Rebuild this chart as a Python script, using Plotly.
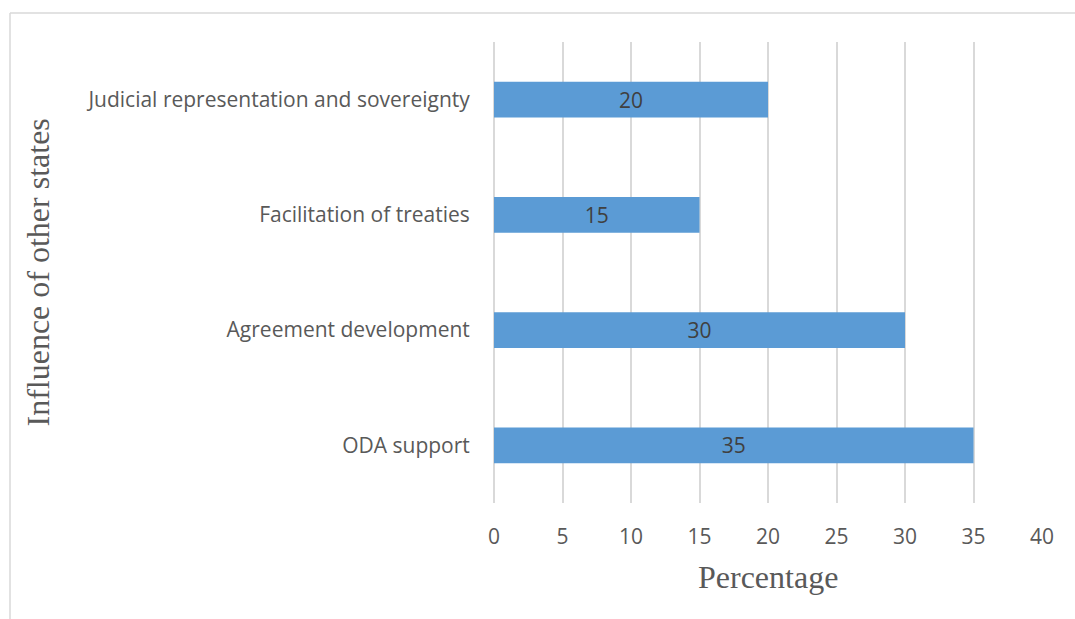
import plotly.graph_objects as go

# Influence of other states, share of responses (%)
categories = ["ODA support", "Agreement development", "Facilitation of treaties",
              "Judicial representation and sovereignty"]
values = [35, 30, 15, 20]
x_ticks = [0, 5, 10, 15, 20, 25, 30, 35, 40]

W, H = 1075, 619
L, R, T, B = 494, 33, 42, 116
pw, ph = W - L - R, H - T - B

SANS = "Open Sans, sans-serif"
SERIF = "Liberation Serif, Times New Roman, serif"

def px_x(p):
    return (p - L) / pw

def px_y(p):
    return 1 - (p - T) / ph

fig = go.Figure(go.Bar(
    y=categories,
    x=values,
    orientation="h",
    marker=dict(color="#5B9BD5", line=dict(width=0)),
    width=0.31,
    text=[str(v) for v in values],
    textposition="inside",
    insidetextanchor="middle",
    constraintext="none",
    textangle=0,
    textfont=dict(family=SANS, size=21, color="#404040"),
    cliponaxis=False,
))

fig.update_layout(
    width=W, height=H,
    margin=dict(l=L, r=R, t=T, b=B),
    paper_bgcolor="white",
    plot_bgcolor="white",
    showlegend=False,
    bargap=0.69,
    xaxis=dict(
        range=[0, 40],
        tickvals=x_ticks,
        ticktext=[str(v) for v in x_ticks],
        showgrid=True,
        gridcolor="#d9d9d9",
        gridwidth=1.5,
        zeroline=True,
        zerolinecolor="#d9d9d9",
        zerolinewidth=1.5,
        showline=False,
        ticks="outside",
        ticklen=15,
        tickcolor="rgba(0,0,0,0)",
        tickfont=dict(family=SANS, size=21, color="#595959"),
        fixedrange=True,
    ),
    yaxis=dict(
        categoryorder="array",
        categoryarray=categories,
        showgrid=False,
        zeroline=False,
        showline=False,
        ticks="outside",
        ticklen=19,
        tickcolor="rgba(0,0,0,0)",
        tickfont=dict(family=SANS, size=21, color="#595959"),
        fixedrange=True,
    ),
    annotations=[
        dict(text="Percentage", xref="paper", yref="paper",
             x=0.5, y=px_y(577), xanchor="center", yanchor="middle",
             showarrow=False,
             font=dict(family=SERIF, size=32, color="#595959")),
        dict(text="Influence of other states", xref="paper", yref="paper",
             x=px_x(37), y=0.5, xanchor="center", yanchor="middle",
             textangle=-90, showarrow=False,
             font=dict(family=SERIF, size=32, color="#595959")),
    ],
    shapes=[
        dict(type="line", xref="paper", yref="paper",
             x0=px_x(10), x1=px_x(W + 5), y0=px_y(13), y1=px_y(13),
             line=dict(color="#d9d9d9", width=1.5)),
        dict(type="line", xref="paper", yref="paper",
             x0=px_x(10), x1=px_x(10), y0=px_y(13), y1=px_y(H + 5),
             line=dict(color="#d9d9d9", width=1.5)),
    ],
)

fig.write_html("out.html")
